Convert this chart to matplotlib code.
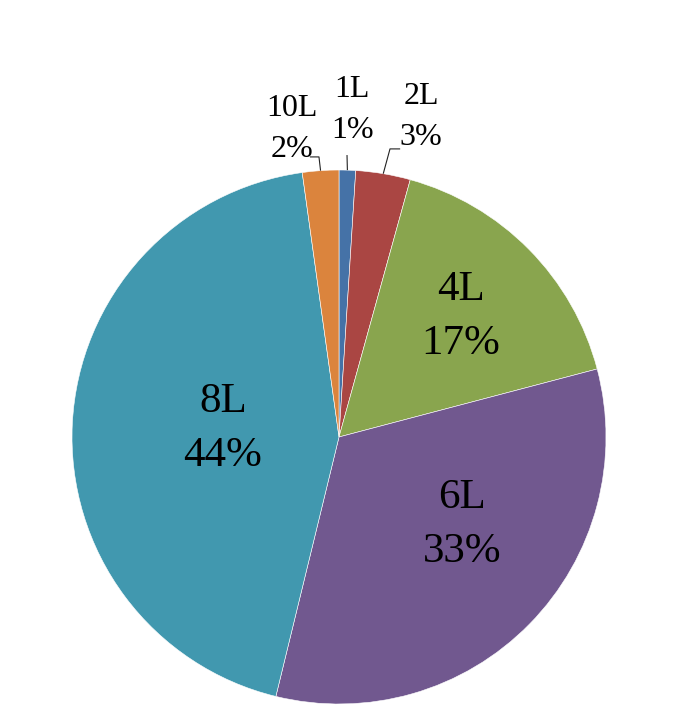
import numpy as np
import matplotlib
matplotlib.use("Agg")
import matplotlib.pyplot as plt

# slice data (clockwise from 12 o'clock)
sizes = ["1L", "2L", "4L", "6L", "8L", "10L"]
shares = [1.0, 3.3, 16.6, 32.9, 44.0, 2.2]
colors = ["#4572A7", "#AA4643", "#89A54E", "#71588F", "#4198AF", "#DB843D"]

# label layout: block centre in pie units (radius = 1)
label_pos = {
    "1L": (0.049, 1.223), "2L": (0.307, 1.199), "10L": (-0.176, 1.155),
    "4L": (0.457, 0.451), "6L": (0.461, -0.330), "8L": (-0.435, 0.030),
}
# elbow of leader lines for the small outside labels
leader_elbow = {
    "1L": [(0.030, 1.056)],
    "2L": [(0.229, 1.079), (0.191, 1.079)],
    "10L": [(-0.109, 1.049), (-0.075, 1.049)],
}

plt.rcParams["font.family"] = ["Liberation Serif", "DejaVu Serif"]

fig = plt.figure(figsize=(6.78, 7.21), dpi=100)
ax = fig.add_axes([0, 0, 1, 1])

wedges, _ = ax.pie(shares, colors=colors, startangle=90, counterclock=False,
                   radius=1, center=(0, 0), frame=True,
                   wedgeprops=dict(edgecolor="white", linewidth=0.4))
ax.set_xlim(-339 / 267, 339 / 267)
ax.set_ylim(-284 / 267, 437 / 267)
ax.set_aspect("equal")
ax.axis("off")

for w, name, val in zip(wedges, sizes, shares):
    cx, cy = label_pos[name]
    pct = "%d%%" % round(val)
    if name in leader_elbow:
        fs, gap = 23, 41 / 267
        mid = np.deg2rad((w.theta1 + w.theta2) / 2)
        pts = leader_elbow[name] + [(np.cos(mid), np.sin(mid))]
        xs, ys = zip(*pts)
        ax.plot(xs, ys, color="#222222", lw=0.8, solid_capstyle="butt")
    else:
        fs, gap = 31, 54 / 267
    ax.text(cx, cy + gap / 2, name, ha="center", va="center", fontsize=fs, color="black")
    ax.text(cx, cy - gap / 2, pct, ha="center", va="center", fontsize=fs, color="black")

fig.savefig("out.png", dpi=100, facecolor="white")
